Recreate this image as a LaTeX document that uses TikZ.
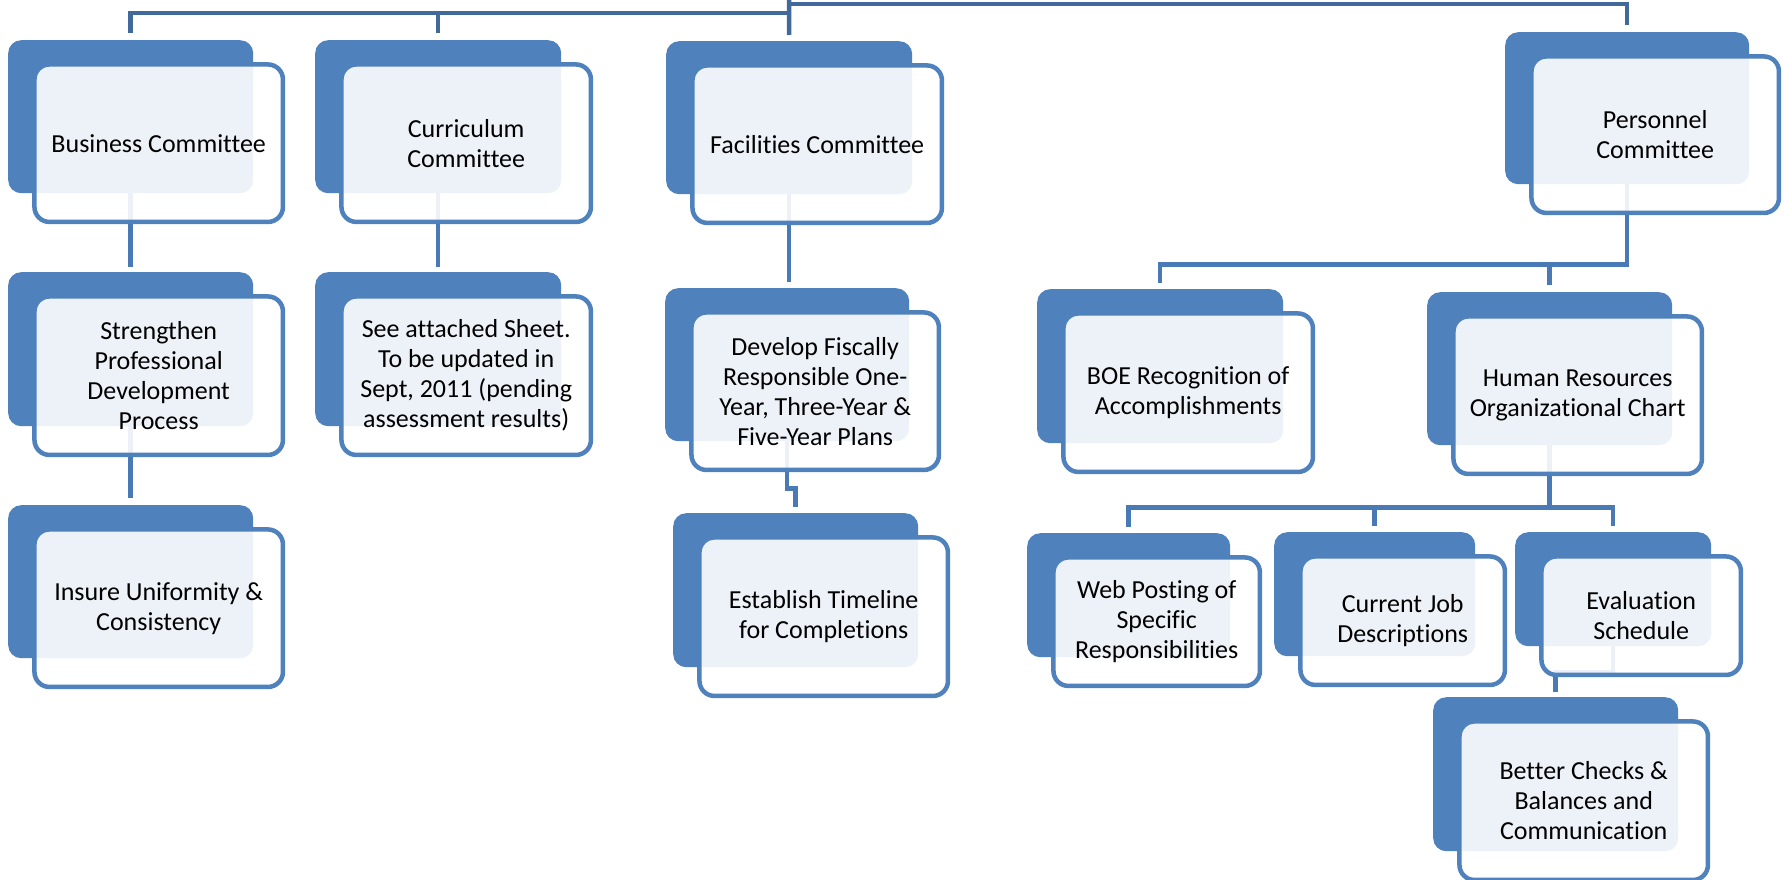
\documentclass[tikz,border=0pt]{standalone}
\usepackage{fontspec}
\setmainfont{Carlito}[Ligatures = NoCommon]
\usepackage{xcolor}
\usepackage{tikz}

\definecolor{panelblue}{HTML}{4F81BD}
\definecolor{linkblue}{HTML}{4A7AB5}
\definecolor{rootblue}{HTML}{41699B}

\pgfdeclarelayer{background}
\pgfsetlayers{background,main}

\tikzset{
  backpanel/.style = {fill = panelblue, rounded corners = 13pt, inner sep = 0pt},
  frontpanel/.style = {draw = panelblue, line width = 4.5pt, fill = white, fill opacity = 0.9,
    text opacity = 1, rounded corners = 15pt, inner sep = 0pt, align = center,
    font = \fontsize{26}{30}\selectfont},
  link/.style = {draw = linkblue, line width = 4.5pt},
  rootlink/.style = {draw = rootblue, line width = 4.5pt}
}

% #1 name, #2 #3 top left corner of the back panel, #4 width, #5 height, #6 text
\newcommand{\orgbox}[6]{
  \node[backpanel, anchor = north west, minimum width = #4, minimum height = #5] (#1-b) at (#2,#3) {};
  \node[frontpanel, minimum width = #4+3.5, minimum height = #5+4.5]
    (#1) at ([xshift = 28pt, yshift = -26.5pt]#1-b.center) {#6};
}

\begin{document}
\begin{tikzpicture}[x = 1pt, y = -1pt]

    \useasboundingbox (0,0) rectangle (1785,880);

    % Committees
    \orgbox{bus}{8}{40}{245}{153}{Business Committee}
    \orgbox{cur}{315}{40}{246}{153}{Curriculum\\Committee}
    \orgbox{fac}{666}{41}{246}{153}{Facilities Committee}
    \orgbox{per}{1505}{32}{244}{152}{Personnel\\Committee}

    % Goals under the committees
    \orgbox{str}{8}{272}{245}{154}{Strengthen\\Professional\\Development\\Process}
    \orgbox{ins}{8}{505}{245}{153}{Insure Uniformity \&\\Consistency}
    \orgbox{see}{315}{272}{246}{154}{See attached Sheet.\\To be updated in\\Sept, 2011 (pending\\assessment results)}
    \orgbox{dev}{665}{288}{244}{153}{Develop Fiscally\\Responsible One-\\Year, Three-Year \&\\Five-Year Plans}
    \orgbox{est}{673}{513}{245}{154}{Establish Timeline\\for Completions}
    \orgbox{boe}{1037}{289}{246}{154}{BOE Recognition of\\Accomplishments}
    \orgbox{hr}{1427}{292}{245}{153}{Human Resources\\Organizational Chart}

    \orgbox{web}{1027}{533}{203}{124}{Web Posting of\\Specific\\Responsibilities}
    \orgbox{job}{1274}{532}{201}{124}{Current Job\\Descriptions}
    \orgbox{eva}{1515}{532}{196}{114}{Evaluation\\Schedule}
    \orgbox{chk}{1433}{697}{245}{154}{Better Checks \&\\Balances and\\Communication}

    \begin{pgfonlayer}{background}
      % Top level lines
      \coordinate (top) at (789,0);
      \draw[rootlink, shorten >= 6pt] (top) -- (fac-b.north);
      \draw[rootlink, shorten >= 7pt] (top) ++(0,4) -| (per-b.north);
      \draw[rootlink, shorten >= 7pt] (top) ++(0,13) -| (bus-b.north);
      \draw[rootlink, shorten >= 7pt] (top) ++(0,13) -| (cur-b.north);

      % Lines below the committees
      \draw[link, shorten >= 5pt] (bus-b.south) -- (str-b.north);
      \draw[link, shorten >= 7pt] (str-b.south) -- (ins-b.north);
      \draw[link, shorten >= 5pt] (cur-b.south) -- (see-b.north);
      \draw[link, shorten >= 6pt] (fac-b.south) -- (fac-b.south |- dev-b.north);
      \draw[link, shorten >= 6pt] (dev-b.south) -- ++(0,47) -| (est-b.north);
      \draw[link, shorten >= 6pt] (per-b.south) -- ++(0,80) -| (boe-b.north);
      \draw[link, shorten >= 7pt] (per-b.south) -- ++(0,80) -| (hr-b.north);
      \draw[link, shorten >= 6pt] (hr-b.south) -- ++(0,62) -| (web-b.north);
      \draw[link, shorten >= 6pt] (hr-b.south) -- ++(0,62) -| (job-b.north);
      \draw[link, shorten >= 6pt] (hr-b.south) -- ++(0,62) -| (eva-b.north);
      \draw[link, shorten >= 5pt] (eva-b.south) -- ++(0,26) -| (chk-b.north);
    \end{pgfonlayer}

\end{tikzpicture}
\end{document}
